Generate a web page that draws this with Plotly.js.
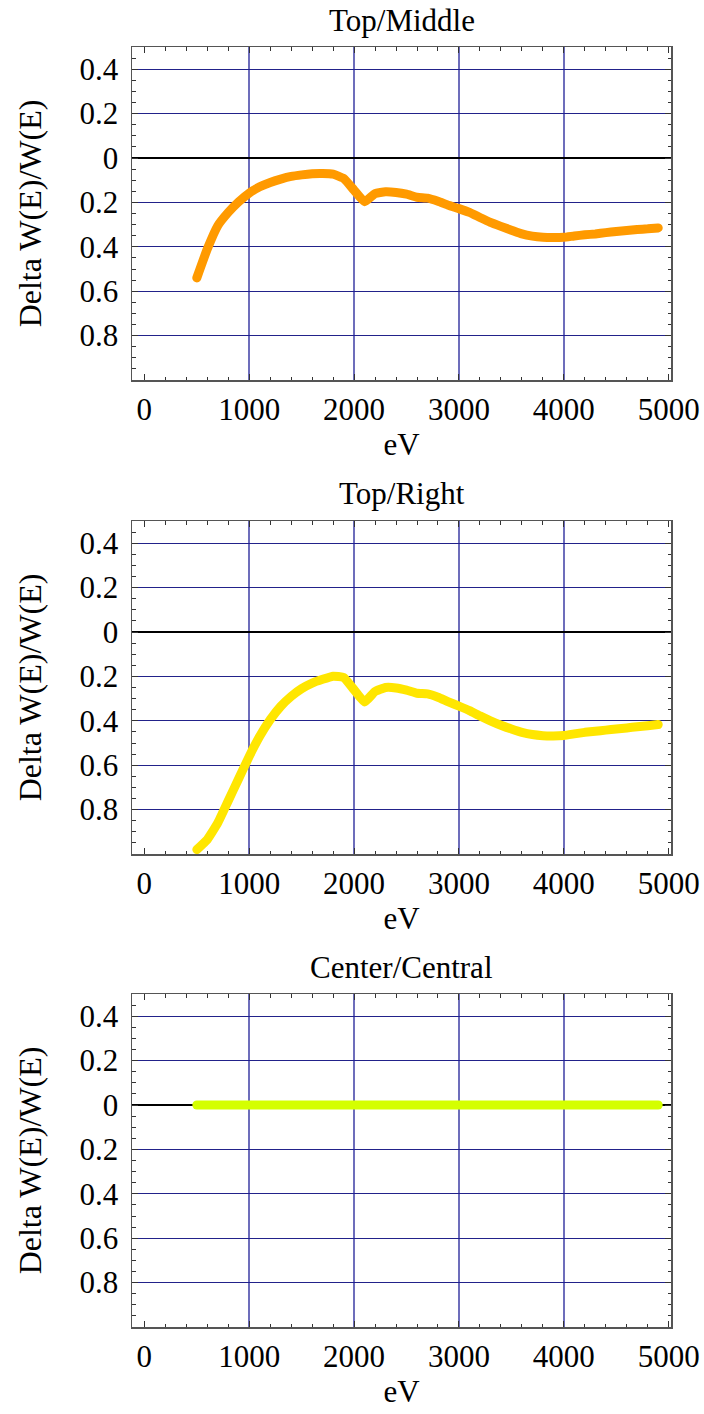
<!DOCTYPE html>
<html>
<head>
<meta charset="utf-8">
<script src="https://cdn.plot.ly/plotly-3.0.1.min.js"></script>
<style>
  html, body { margin: 0; padding: 0; background: #ffffff; }
  #chart { width: 704px; height: 1414px; }
  /* rounded ends on the data curves */
  #chart .scatterlayer .js-line { stroke-linecap: round; stroke-linejoin: round; }
</style>
</head>
<body>
<div id="chart"></div>
<script>
// Photon energy grid (eV)
const energy = [500, 600, 700, 800, 900, 1000, 1100, 1200, 1300, 1400, 1500, 1600, 1700, 1800, 1900,
  2000, 2100, 2200, 2300, 2400, 2500, 2600, 2700, 2800, 2900, 3000, 3100, 3200, 3300, 3400,
  3500, 3600, 3700, 3800, 3900, 4000, 4100, 4200, 4300, 4400, 4500, 4600, 4700, 4800, 4900];

// Relative change of W(E) for each detector position
const topMiddle = [-0.54, -0.41, -0.305, -0.245, -0.197, -0.158, -0.13, -0.11, -0.095, -0.083, -0.076, -0.071, -0.070, -0.073, -0.092,
  -0.145, -0.197, -0.16, -0.152, -0.155, -0.163, -0.177, -0.181, -0.195, -0.213, -0.228, -0.245, -0.268, -0.29, -0.308,
  -0.325, -0.342, -0.352, -0.357, -0.358, -0.357, -0.351, -0.346, -0.342, -0.336, -0.331, -0.327, -0.322, -0.319, -0.315];

const topRight = [-0.98, -0.935, -0.86, -0.76, -0.66, -0.56, -0.47, -0.395, -0.335, -0.29, -0.255, -0.23, -0.213, -0.199, -0.205,
  -0.26, -0.315, -0.268, -0.25, -0.252, -0.262, -0.276, -0.279, -0.294, -0.315, -0.334, -0.354, -0.378, -0.40, -0.42,
  -0.437, -0.452, -0.462, -0.467, -0.468, -0.466, -0.459, -0.452, -0.447, -0.442, -0.437, -0.432, -0.427, -0.422, -0.417];

const centerCentral = [0, 0, 0, 0, 0, 0, 0, 0, 0, 0, 0, 0, 0, 0, 0,
  0, 0, 0, 0, 0, 0, 0, 0, 0, 0, 0, 0, 0, 0, 0,
  0, 0, 0, 0, 0, 0, 0, 0, 0, 0, 0, 0, 0, 0, 0];

const panelTitles = ['Top/Middle', 'Top/Right', 'Center/Central'];
const lineColors = ['#ff9a00', '#ffe600', '#d4ff00'];

// Tick labels
const xTickVals = [0, 1000, 2000, 3000, 4000, 5000];
const xTickText = ['0', '1000', '2000', '3000', '4000', '5000'];
const xGridVals = [1000, 2000, 3000, 4000];
const yTickVals = [0.4, 0.2, 0, -0.2, -0.4, -0.6, -0.8];
const yTickText = ['0.4', '0.2', '0', '0.2', '0.4', '0.6', '0.8'];

const xTitle = 'eV';
const yTitle = 'Delta W(E)/W(E)';

const FONT = '"Liberation Serif", "Times New Roman", serif';
const FS = 31;
const W = 704, H = 1414;

const xRange = [-118, 5022];
const yRange = [-1.0, 0.5];

// pixel boxes of the three panels
const left = 132, right = 671;
const panels = [
  { top: 47, bottom: 380 },
  { top: 521, bottom: 854 },
  { top: 994, bottom: 1327 }
];

const series = [topMiddle, topRight, centerCentral];

const data = [];
const layout = {
  width: W, height: H,
  margin: { l: 0, r: 0, t: 0, b: 0 },
  paper_bgcolor: '#ffffff',
  plot_bgcolor: '#ffffff',
  showlegend: false,
  font: { family: FONT, size: FS, color: '#000000' },
  annotations: []
};

const xDom = [left / W, right / W];

panels.forEach((p, i) => {
  const n = i + 1;
  const xa = n === 1 ? 'x' : 'x' + n;
  const ya = n === 1 ? 'y' : 'y' + n;
  const gx = 'x' + (n + 3);
  const yDom = [1 - p.bottom / H, 1 - p.top / H];

  data.push({
    type: 'scatter', mode: 'lines',
    x: energy, y: series[i],
    xaxis: xa, yaxis: ya,
    line: { color: lineColors[i], width: 9, shape: 'spline', smoothing: 0.4 },
    hoverinfo: 'skip'
  });

  layout['xaxis' + (n === 1 ? '' : n)] = {
    domain: xDom, anchor: ya, range: xRange,
    tickmode: 'array', tickvals: xTickVals, ticktext: xTickText,
    ticks: 'inside', ticklen: 6, tickwidth: 1, tickcolor: '#333333',
    minor: { dtick: 200, tick0: 0, ticks: 'inside', ticklen: 3.5, tickwidth: 1, tickcolor: '#333333', showgrid: false },
    showgrid: false, zeroline: false,
    showline: true, linecolor: '#555555', linewidth: 1.5, mirror: 'ticks',
    tickfont: { family: FONT, size: FS, color: '#000000' },
    ticklabelstandoff: 1,
    title: { text: xTitle, font: { family: FONT, size: FS, color: '#000000' }, standoff: 6 }
  };

  // vertical grid lines at the inner thousands
  layout['xaxis' + (n + 3)] = {
    domain: xDom, anchor: ya, overlaying: xa, range: xRange,
    tickmode: 'array', tickvals: xGridVals,
    showticklabels: false, ticks: '',
    showgrid: true, gridcolor: 'rgba(30,30,150,0.65)', gridwidth: 1.5,
    zeroline: false, showline: false
  };

  layout['yaxis' + (n === 1 ? '' : n)] = {
    domain: yDom, anchor: xa, range: yRange,
    tickmode: 'array', tickvals: yTickVals, ticktext: yTickText,
    ticks: 'inside', ticklen: 6, tickwidth: 1, tickcolor: '#333333',
    minor: { dtick: 0.05, tick0: 0, ticks: 'inside', ticklen: 3.5, tickwidth: 1, tickcolor: '#333333', showgrid: false },
    showgrid: true, gridcolor: 'rgba(10,10,125,0.9)', gridwidth: 1,
    zeroline: true, zerolinecolor: '#000000', zerolinewidth: 1.2,
    showline: true, linecolor: '#555555', linewidth: 1.5, mirror: 'ticks',
    tickfont: { family: FONT, size: FS, color: '#000000' },
    ticklabelstandoff: 6,
    title: { text: yTitle, font: { family: FONT, size: 32, color: '#000000' }, standoff: 28 }
  };

  // invisible trace so the grid axis gets drawn
  data.push({
    type: 'scatter', mode: 'lines', x: [energy[0]], y: [series[i][0]],
    xaxis: gx, yaxis: ya, line: { width: 0 }, hoverinfo: 'skip', showlegend: false
  });

  layout.annotations.push({
    text: panelTitles[i], xref: 'paper', yref: 'paper',
    x: (left + right) / 2 / W, y: 1 - (p.top - 27) / H,
    xanchor: 'center', yanchor: 'middle', showarrow: false,
    font: { family: FONT, size: FS, color: '#000000' }
  });
});

Plotly.newPlot('chart', data, layout, { displayModeBar: false, staticPlot: true });
</script>
</body>
</html>
